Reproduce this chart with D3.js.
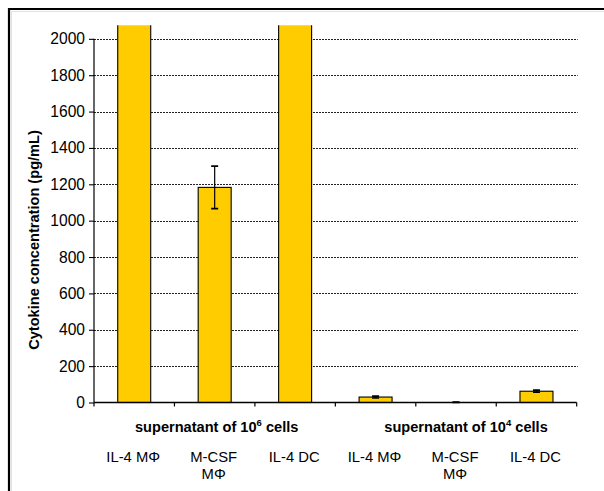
<!DOCTYPE html>
<html>
<head>
<meta charset="utf-8">
<script src="https://cdn.jsdelivr.net/npm/d3@7"></script>
<style>
  html, body { margin: 0; padding: 0; background: #fff; }
  svg { display: block; font-family: Arial, "Liberation Sans", sans-serif; }
</style>
</head>
<body>
<svg id="chart" width="604" height="491"></svg>
<script>
// ---- data ----
const categories = ["IL-4 MΦ|10^6", "M-CSF MΦ|10^6", "IL-4 DC|10^6", "IL-4 MΦ|10^4", "M-CSF MΦ|10^4", "IL-4 DC|10^4"];
const categoryLabels = [["IL-4 MΦ"], ["M-CSF", "MΦ"], ["IL-4 DC"], ["IL-4 MΦ"], ["M-CSF", "MΦ"], ["IL-4 DC"]];
const values = [2600, 1183, 2600, 30, 0, 62];      // first & third exceed the axis (clipped)
const errors = [0, 117, 0, 5, 3, 6];
const groupLabels = ["supernatant of 10", "supernatant of 10"];
const groupExponents = ["6", "4"];
const groupMembers = [[0, 1, 2], [3, 4, 5]];
const yTicks = [0, 200, 400, 600, 800, 1000, 1200, 1400, 1600, 1800, 2000];
const yTitle = "Cytokine concentration (pg/mL)";

(function () {
// ---- layout ----
const svg = d3.select("#chart");
const mLeft = 94, mRight = 576.7, mBottom = 402.5, mTop = 25.2;
const yAxisMax = 2000, yDomainMax = 2075;

const x = d3.scaleBand().domain(categories).range([mLeft, mRight]).paddingInner(0.59).paddingOuter(0.295);
const xEdges = d3.scaleBand().domain(categories).range([mLeft, mRight]).padding(0);
const y = d3.scaleLinear().domain([0, yDomainMax]).range([mBottom, mTop]);

// frame
svg.append("path").attr("d", "M9.5,491 V9.5 H604").attr("fill", "none").attr("stroke", "#e2e2e2").attr("stroke-width", 1).attr("transform", "translate(2,2)");
svg.append("path").attr("d", "M9,491 V9 H604").attr("fill", "none").attr("stroke", "#000").attr("stroke-width", 2.2);

// gridlines
svg.append("g").selectAll("line").data(yTicks.filter(d => d > 0)).join("line")
  .attr("x1", mLeft).attr("x2", mRight + 1)
  .attr("y1", d => Math.round(y(d)) + 0.5).attr("y2", d => Math.round(y(d)) + 0.5)
  .attr("stroke", "#222").attr("stroke-width", 1).attr("stroke-dasharray", "2,1");

// clip
svg.append("clipPath").attr("id", "plotclip").append("rect")
  .attr("x", mLeft - 2).attr("y", mTop).attr("width", mRight - mLeft + 4).attr("height", mBottom - mTop + 2);

const plot = svg.append("g").attr("clip-path", "url(#plotclip)");
plot.selectAll("rect.bar").data(categories).join("rect")
  .attr("class", "bar")
  .attr("x", d => x(d))
  .attr("y", (d, i) => y(values[i]))
  .attr("width", x.bandwidth())
  .attr("height", (d, i) => y(0) - y(values[i]))
  .attr("fill", "#FFCC00")
  .attr("stroke", "#000").attr("stroke-width", 1.1);

// error bars
const eb = plot.append("g");
categories.forEach((c, i) => {
  if (!errors[i]) return;
  const cx = x(c) + x.bandwidth() / 2;
  const y1 = y(values[i] + errors[i]);
  const y2 = y(Math.max(0, values[i] - errors[i]));
  eb.append("line").attr("x1", cx).attr("x2", cx).attr("y1", y1).attr("y2", y2).attr("stroke", "#000").attr("stroke-width", 1.2);
  [y1, y2].forEach(yy => eb.append("line").attr("x1", cx - 3.5).attr("x2", cx + 3.5).attr("y1", yy).attr("y2", yy).attr("stroke", "#000").attr("stroke-width", 1.6));
});

// y axis
const yAxis = svg.append("g").attr("transform", `translate(${mLeft},0)`)
  .call(d3.axisLeft(y).tickValues(yTicks).tickSize(5).tickPadding(4).tickFormat(d3.format("d")));
yAxis.select(".domain").remove();
yAxis.append("line").attr("x1", 0).attr("x2", 0).attr("y1", y(yAxisMax)).attr("y2", y(0)).attr("stroke", "#000").attr("stroke-width", 1.2);
yAxis.selectAll(".tick line").attr("stroke-width", 1.1);
yAxis.selectAll(".tick text").attr("font-size", 15.6).attr("fill", "#000").attr("font-family", "Arial, 'Liberation Sans', sans-serif");

// x axis
const xg = svg.append("g");
xg.append("line").attr("x1", mLeft).attr("x2", mRight).attr("y1", y(0)).attr("y2", y(0)).attr("stroke", "#000").attr("stroke-width", 1.4);
const edges = categories.map(c => xEdges(c)).concat([mRight]);
xg.selectAll("line.tk").data(edges).join("line").attr("class", "tk")
  .attr("x1", d => d).attr("x2", d => d).attr("y1", y(0)).attr("y2", y(0) + 4)
  .attr("stroke", "#000").attr("stroke-width", 1.2);

// category labels
categories.forEach((c, i) => {
  const cx = xEdges(c) + xEdges.bandwidth() / 2 - 1;
  const t = svg.append("text").attr("text-anchor", "middle").attr("font-size", 14.8).attr("fill", "#000")
    .attr("x", cx).attr("y", 461.5);
  categoryLabels[i].forEach((line, j) => t.append("tspan").attr("x", cx).attr("dy", j === 0 ? 0 : 17.5).text(line));
});

// group labels
const groupDx = [2, 10];
groupMembers.forEach((m, g) => {
  const mid = categories[m[1]];
  const cx = xEdges(mid) + xEdges.bandwidth() / 2 + groupDx[g];
  const t = svg.append("text").attr("text-anchor", "middle").attr("font-size", 14.6).attr("font-weight", "bold").attr("fill", "#000")
    .attr("x", cx).attr("y", 432);
  t.append("tspan").text(groupLabels[g]);
  t.append("tspan").attr("font-size", 9.5).attr("dy", -6).text(groupExponents[g]);
  t.append("tspan").attr("dy", 6).text(" cells");
});

// y title
svg.append("text").attr("transform", "translate(39,240) rotate(-90)")
  .attr("text-anchor", "middle").attr("font-size", 14.6).attr("font-weight", "bold").attr("fill", "#000")
  .text(yTitle);
})();
</script>
</body>
</html>
